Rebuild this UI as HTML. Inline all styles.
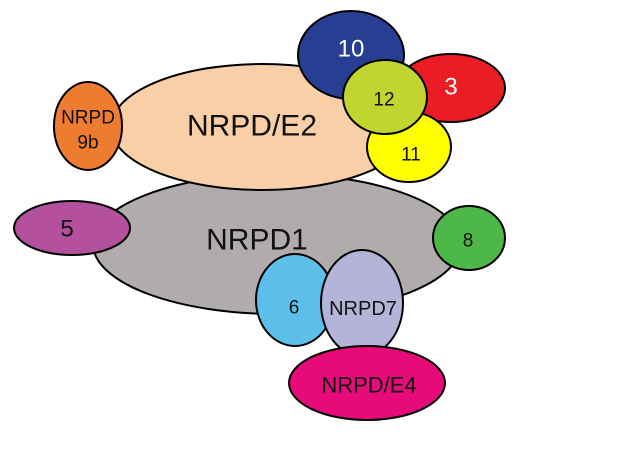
<!DOCTYPE html>
<html><head><meta charset="utf-8"><style>
html,body{margin:0;padding:0;background:#fff}
svg{display:block}
text{font-family:"Liberation Sans","Noto Sans CJK SC",sans-serif;text-anchor:middle;dominant-baseline:central}
ellipse{stroke:#000;stroke-width:2}
</style></head><body>
<svg width="617" height="464" viewBox="0 0 617 464">
<ellipse cx="277" cy="244" rx="184" ry="70" fill="#b0acab"/>
<text x="257" y="240" font-size="30" fill="#111">NRPD1</text>
<ellipse cx="262" cy="127" rx="151" ry="63" fill="#f9cfa8"/>
<text x="252" y="126" font-size="30" fill="#111">NRPD/E2</text>
<ellipse cx="88" cy="126" rx="34" ry="44" fill="#ee7c30"/>
<text x="88" y="118" font-size="19" fill="#111">NRPD</text>
<text x="88" y="143" font-size="19" fill="#111">9b</text>
<ellipse cx="72" cy="228" rx="58" ry="27" fill="#b5509f"/>
<text x="67" y="229" font-size="24" fill="#111">5</text>
<ellipse cx="469" cy="238" rx="36" ry="32" fill="#4db848"/>
<text x="468" y="241" font-size="19" fill="#111">8</text>
<ellipse cx="351" cy="55" rx="53" ry="44" fill="#283e93"/>
<text x="351" y="49" font-size="24" fill="#fff">10</text>
<ellipse cx="451" cy="88" rx="54" ry="34" fill="#ec1c24"/>
<text x="451" y="87" font-size="24" fill="#fff">3</text>
<ellipse cx="409" cy="147" rx="42" ry="35" fill="#ffff00"/>
<text x="411" y="155" font-size="19" fill="#111">11</text>
<ellipse cx="385" cy="97" rx="42" ry="37" fill="#c1d531"/>
<text x="384" y="100" font-size="19" fill="#111">12</text>
<ellipse cx="295" cy="300" rx="39" ry="46" fill="#5bbfe9"/>
<text x="294" y="308" font-size="19" fill="#111">6</text>
<ellipse cx="362" cy="303" rx="41" ry="53" fill="#b3b4d8"/>
<text x="363" y="309" font-size="20" fill="#111">NRPD7</text>
<ellipse cx="367" cy="383" rx="78" ry="37" fill="#e60b78"/>
<text x="369" y="385" font-size="22" fill="#111">NRPD/E4</text>
</svg>
</body></html>
